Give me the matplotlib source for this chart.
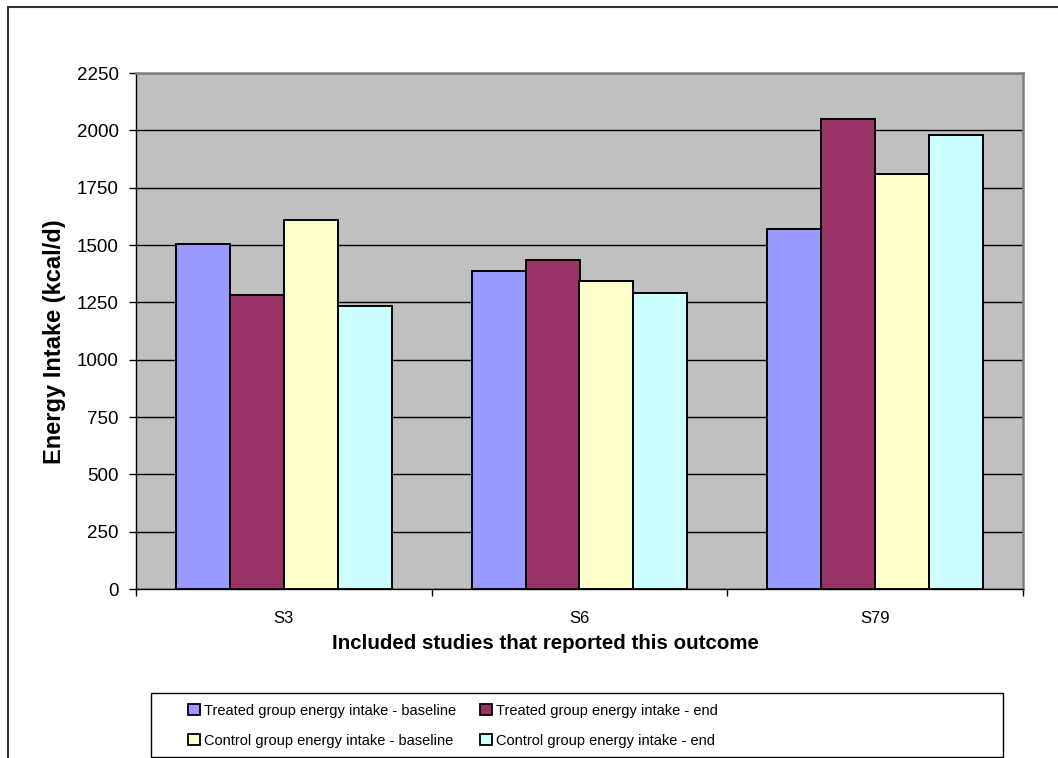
import matplotlib
matplotlib.use("Agg")
import matplotlib.pyplot as plt
import numpy as np
from matplotlib.patches import Rectangle

plt.rcParams['font.family'] = ['Liberation Sans', 'DejaVu Sans']

# Data
studies = ["S3", "S6", "S79"]
series_labels = [
    "Treated group energy intake - baseline",
    "Treated group energy intake - end",
    "Control group energy intake - baseline",
    "Control group energy intake - end",
]
treated_baseline = [1505, 1385, 1570]
treated_end = [1280, 1435, 2050]
control_baseline = [1610, 1345, 1810]
control_end = [1235, 1290, 1980]
series_values = [treated_baseline, treated_end, control_baseline, control_end]
series_colors = ["#9999FF", "#993366", "#FFFFCC", "#CCFFFF"]
y_ticks = [0, 250, 500, 750, 1000, 1250, 1500, 1750, 2000, 2250]

W, H = 1058, 758
fig = plt.figure(figsize=(W / 100, H / 100), dpi=100)
fig.patch.set_facecolor("white")

def fx(px):
    return px / W

def fy(py):
    return 1 - py / H

# Plot area
ax_l, ax_t, ax_r, ax_b = 136, 73, 1023, 589
ax = fig.add_axes([fx(ax_l), fy(ax_b), fx(ax_r - ax_l), (ax_b - ax_t) / H])
ax.set_facecolor("#C0C0C0")

x = np.arange(len(studies))
bar_w = 0.1826
offsets = (np.arange(len(series_values)) - 1.5) * bar_w
for vals, col, off, lab in zip(series_values, series_colors, offsets, series_labels):
    ax.bar(x + off, vals, width=bar_w, color=col, edgecolor="black",
           linewidth=1.4, label=lab, zorder=3)

ax.set_xlim(-0.5, len(studies) - 0.5)
ax.set_ylim(y_ticks[0], y_ticks[-1])
ax.set_yticks(y_ticks)
ax.set_yticklabels([str(v) for v in y_ticks])
ax.yaxis.grid(True, color="black", linewidth=1.0, zorder=1)
ax.set_axisbelow(True)

ax.set_xticks(x)
ax.set_xticklabels(studies)
ax.set_xticks(np.arange(-0.5, len(studies)), minor=True)
ax.tick_params(axis="x", which="major", length=0, pad=15.5, labelsize=12)
ax.tick_params(axis="x", which="minor", length=5, width=1, direction="out")
ax.tick_params(axis="y", direction="out", length=5, width=1, pad=7.5, labelsize=13.5)

for side in ("top", "right"):
    ax.spines[side].set_color("#808080")
    ax.spines[side].set_linewidth(1.8)
for side in ("left", "bottom"):
    ax.spines[side].set_color("black")
    ax.spines[side].set_linewidth(1.0)

# Axis titles
fig.text(fx(545), fy(649), "Included studies that reported this outcome",
         ha="center", va="baseline", fontsize=14.8, fontweight="bold")
fig.text(fx(54), fy(342), "Energy Intake (kcal/d)", rotation=90,
         ha="center", va="center", fontsize=17, fontweight="bold")

# Legend box
leg_l, leg_t, leg_r, leg_b = 151, 693, 1003, 757
fig.add_artist(Rectangle((fx(leg_l), fy(leg_b)), fx(leg_r - leg_l), (leg_b - leg_t) / H,
                         transform=fig.transFigure, facecolor="white",
                         edgecolor="black", linewidth=1.0))
col_x = [188, 480]
row_base = [715, 745]
order = [(0, 0), (1, 0), (0, 1), (1, 1)]  # (column, row) per series
msize = 11.5
for (c, r), col, lab in zip(order, series_colors, series_labels):
    mx, base = col_x[c], row_base[r]
    fig.add_artist(Rectangle((fx(mx), fy(base)), fx(msize), msize / H,
                             transform=fig.transFigure, facecolor=col,
                             edgecolor="black", linewidth=1.3))
    fig.text(fx(mx + msize + 4), fy(base), lab, ha="left", va="baseline", fontsize=10.5)

# Chart area border
fig.add_artist(Rectangle((fx(8), fy(800)), fx(1100), 793 / H,
                         transform=fig.transFigure, facecolor="none",
                         edgecolor="#333333", linewidth=1.5))

fig.savefig("out.png", dpi=100, facecolor="white")
